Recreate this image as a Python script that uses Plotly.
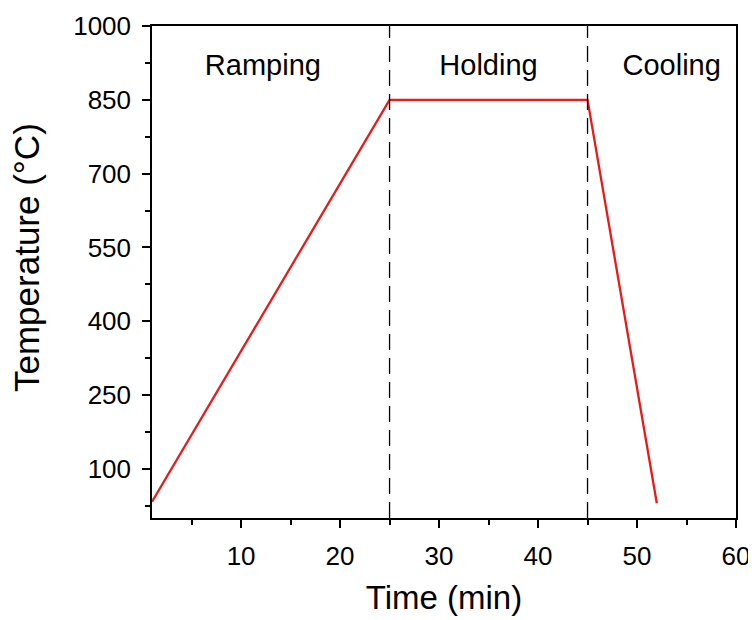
import plotly.graph_objects as go

time_min = [1, 25, 45, 52]
temperature = [33, 850, 850, 30]
phase_bounds = [25, 45]
phase_labels = ["Ramping", "Holding", "Cooling"]
phase_label_x = [12.2, 35, 53.5]
phase_label_y = 915

FONT = "Liberation Sans, Arial, sans-serif"

fig = go.Figure()
fig.add_trace(go.Scatter(x=time_min, y=temperature, mode="lines",
                         line=dict(color="#ea1a1a", width=2.3), showlegend=False))
for xb in phase_bounds:
    fig.add_trace(go.Scatter(x=[xb, xb], y=[0, 1000], mode="lines",
                             line=dict(color="black", width=1.3, dash="16px,8px"),
                             showlegend=False))
fig.add_trace(go.Scatter(x=phase_label_x, y=[phase_label_y]*3, mode="text",
                         text=phase_labels, textfont=dict(size=29, color="black", family=FONT),
                         showlegend=False))

axis_common = dict(showline=True, linecolor="black", linewidth=1.5, mirror=True,
                   ticks="outside", ticklen=8, tickwidth=1.5, tickcolor="black",
                   showgrid=False, zeroline=False, automargin=False,
                   tickfont=dict(size=26, color="black", family=FONT))
fig.update_xaxes(range=[1, 60], tickvals=[10, 20, 30, 40, 50, 60],
                 minor=dict(ticks="outside", ticklen=5, tickwidth=1.5, tickcolor="black",
                            tickvals=[5, 15, 25, 35, 45, 55]),
                 ticklabelstandoff=6,
                 title=dict(text="Time (min)", font=dict(size=33, color="black", family=FONT),
                            standoff=16),
                 **axis_common)
fig.update_yaxes(range=[0, 1000], tickvals=[100, 250, 400, 550, 700, 850, 1000],
                 minor=dict(ticks="outside", ticklen=5, tickwidth=1.5, tickcolor="black",
                            tickvals=[25, 175, 325, 475, 625, 775, 925]),
                 ticklabelstandoff=6,
                 **axis_common)
fig.add_annotation(text="Temperature (°C)", textangle=-90, showarrow=False,
                   xref="paper", yref="paper", x=(26 - 152) / 584, y=(518 - 258) / 492,
                   xanchor="center", yanchor="middle",
                   font=dict(size=35, color="black", family=FONT))
fig.update_layout(width=756, height=620, margin=dict(l=144, r=28, t=18, b=110),
                  plot_bgcolor="white", paper_bgcolor="white")
fig.write_html("out.html")
